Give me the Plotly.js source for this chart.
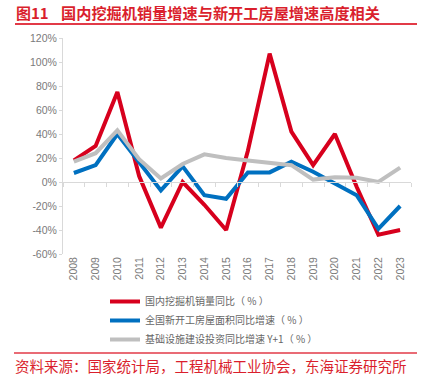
<!DOCTYPE html>
<html>
<head>
<meta charset="utf-8">
<script src="https://cdn.plot.ly/plotly-3.0.1.min.js"></script>
<style>html,body{margin:0;padding:0;background:#fff;}#chart{width:433px;height:381px;}</style>
</head>
<body>
<div id="chart"></div>
<script>
const years = ['2008','2009','2010','2011','2012','2013','2014','2015','2016','2017','2018','2019','2020','2021','2022','2023'];
const excavatorSales = [18, 30, 75, 5, -38, 0, -19, -40, 26, 107, 42, 14, 40, -4, -44, -40];
const newHousingStarts = [7.5, 14, 40, 17, -7, 13, -11, -14, 8, 8, 17, 8.5, -1, -11, -39, -20];
const infraInvestNext = [17, 24, 43, 19, 3, 15, 23, 20, 18, 16, 14, 2, 4, 3.5, 0, 12];
const seriesNames = ['国内挖掘机销量同比（ % ）', '全国新开工房屋面积同比增速（ % ）', '基础设施建设投资同比增速 Y+1（ % ）'];
const yTicks = [-60, -40, -20, 0, 20, 40, 60, 80, 100, 120];

const L = 63, R = 22, T = 38, B = 127, WW = 433, HH = 381;
const PW = WW - L - R, PH = HH - T - B;
const fx = px => (px - L) / PW;
const fy = py => (HH - B - py) / PH;

const red = '#D7001D', blue = '#0070C0', gray = '#BFBFBF', txtRed = '#DA1F2D';
const fontFam = 'Liberation Sans, Arial, Noto Sans CJK SC, sans-serif';
const cjk = 'Noto Sans CJK SC, sans-serif';

const traces = [
  {x: years, y: excavatorSales, name: seriesNames[0], type: 'scatter', mode: 'lines', line: {color: red, width: 4}},
  {x: years, y: newHousingStarts, name: seriesNames[1], type: 'scatter', mode: 'lines', line: {color: blue, width: 4}},
  {x: years, y: infraInvestNext, name: seriesNames[2], type: 'scatter', mode: 'lines', line: {color: gray, width: 4}},
  {x: years, y: years.map(() => null), xaxis: 'x2', showlegend: false, hoverinfo: 'skip', type: 'scatter', mode: 'lines'}
];

const layout = {
  width: WW, height: HH,
  margin: {l: L, r: R, t: T, b: B, pad: 0, autoexpand: false},
  paper_bgcolor: '#fff', plot_bgcolor: '#fff',
  showlegend: true,
  font: {family: fontFam, color: '#7a7a7a', size: 10.5},
  xaxis: {
    type: 'category', range: [-0.5, 15.5], showline: false, ticks: '', showgrid: false, zeroline: false,
    tickmode: 'array', tickvals: years, ticktext: years,
    tickangle: -90, tickfont: {size: 10.5, color: '#7a7a7a', family: fontFam}, fixedrange: true, automargin: false
  },
  xaxis2: {
    type: 'category', range: [-0.5, 15.5], overlaying: 'x', anchor: 'free', position: 60 / 180,
    showline: true, linecolor: '#d9d9d9', linewidth: 1, ticks: 'outside', tickson: 'boundaries',
    tickmode: 'array', tickvals: years,
    ticklen: 4, tickcolor: '#d9d9d9', showticklabels: false, showgrid: false, zeroline: false
  },
  yaxis: {
    range: [-60, 120], tickmode: 'array', tickvals: yTicks, ticktext: yTicks.map(v => v + '%'),
    showline: true, linecolor: '#d9d9d9', linewidth: 1, ticks: 'outside', ticklen: 3, tickcolor: '#d9d9d9',
    showgrid: false, zeroline: false, tickfont: {size: 10.5, color: '#7a7a7a', family: fontFam}, automargin: false
  },
  legend: {
    xref: 'container', yref: 'container', x: 105 / WW, y: 1 - 287 / HH, xanchor: 'left', yanchor: 'top',
    orientation: 'v', font: {family: cjk, size: 10, color: '#666'}, bgcolor: 'rgba(0,0,0,0)', borderwidth: 0,
    tracegroupgap: 0
  },
  shapes: [
    {type: 'line', xref: 'paper', yref: 'paper', x0: fx(15), x1: fx(417), y0: fy(24), y1: fy(24), line: {color: '#E23A47', width: 2}},
    {type: 'line', xref: 'paper', yref: 'paper', x0: fx(14), x1: fx(417), y0: fy(353), y1: fy(353), line: {color: '#E23A47', width: 1.5}}
  ],
  annotations: [
    {text: '<b>图11</b>', xref: 'paper', yref: 'paper', x: fx(14), y: fy(12.5), xanchor: 'left', yanchor: 'middle', showarrow: false,
     font: {family: cjk, size: 15, color: txtRed}},
    {text: '<b>国内挖掘机销量增速与新开工房屋增速高度相关</b>', xref: 'paper', yref: 'paper', x: fx(59), y: fy(12.5), xanchor: 'left', yanchor: 'middle', showarrow: false,
     font: {family: cjk, size: 15.2, color: txtRed}},
    {text: '资料来源：国家统计局，工程机械工业协会，东海证券研究所', xref: 'paper', yref: 'paper', x: fx(13), y: fy(365), xanchor: 'left', yanchor: 'middle', showarrow: false,
     font: {family: cjk, size: 14.5, color: txtRed}}
  ]
};

Plotly.newPlot('chart', traces, layout, {displayModeBar: false, staticPlot: true});
</script>
</body>
</html>
